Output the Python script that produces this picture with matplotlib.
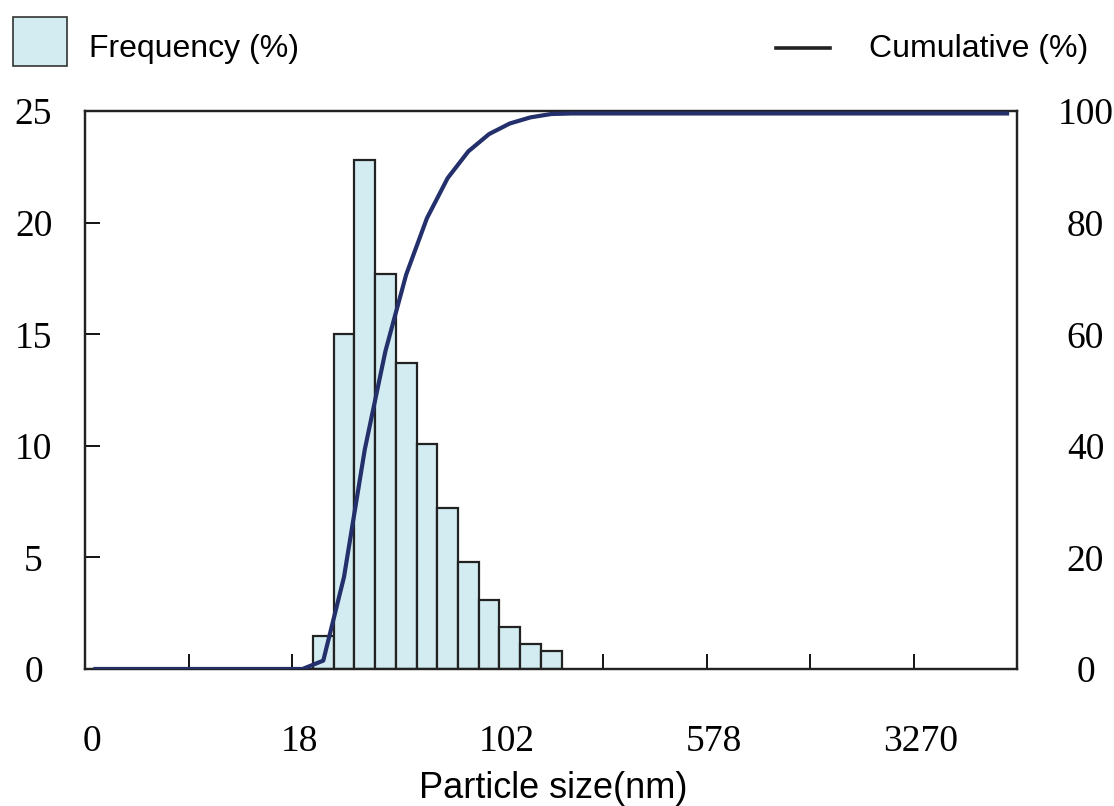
import numpy as np
import matplotlib
matplotlib.use("Agg")
import matplotlib.pyplot as plt
from matplotlib.patches import Rectangle
from matplotlib.lines import Line2D
import matplotlib.transforms as mtransforms

# size classes are log spaced, the axis is drawn in class-index units
n_bins = 45
tick_bins = [0, 10, 20, 30, 40]
tick_labels = ["0", "18", "102", "578", "3270"]

# frequency bars (%) sitting in classes 11..22
bar_bins = [11, 12, 13, 14, 15, 16, 17, 18, 19, 20, 21, 22]
freq = [1.5, 15.0, 22.8, 17.7, 13.7, 10.1, 7.2, 4.8, 3.1, 1.9, 1.1, 0.8]

# cumulative (%) read at the centre of every class
cumulative = [0, 0, 0, 0, 0, 0, 0, 0, 0, 0, 0,
              1.5, 16.5, 39.3, 57.0, 70.7, 80.8, 88.0, 92.8, 95.9, 97.8, 98.9, 99.5,
              99.6, 99.6, 99.6, 99.6, 99.6, 99.6, 99.6, 99.6, 99.6, 99.6, 99.6,
              99.6, 99.6, 99.6, 99.6, 99.6, 99.6, 99.6, 99.6, 99.6, 99.6, 99.6]

left_ticks = [0, 5, 10, 15, 20, 25]
right_ticks = [0, 20, 40, 60, 80, 100]

bar_color = "#d2ecf1"
line_color = "#23306b"
serif = ["Liberation Serif", "DejaVu Serif"]
sans = ["Liberation Sans", "DejaVu Sans"]

fig = plt.figure(figsize=(11.14, 8.06), dpi=100)
ax = fig.add_axes([0.0763, 0.170, 0.837, 0.692])
ax2 = ax.twinx()

ax.bar(np.array(bar_bins) + 0.5, freq, width=1.0, color=bar_color,
       edgecolor="#222222", linewidth=1.6, zorder=2)
ax2.plot(np.arange(n_bins) + 0.5, cumulative, color=line_color, lw=3.0, zorder=3)

ax.set_xlim(0, n_bins)
ax.set_ylim(0, 25)
ax2.set_ylim(0, 100)

# tick marks every 5 classes, labels every 10 (labels sit a little right of the mark)
ax.xaxis.remove_overlapping_locs = False
ax.set_xticks(np.arange(5, n_bins, 5))
ax.set_xticks(tick_bins, minor=True)
ax.tick_params(axis="x", which="major", direction="in", length=11, width=1.3,
               labelbottom=False)
ax.tick_params(axis="x", which="minor", length=0, pad=40, labelsize=27)
ax.set_xticklabels(tick_labels, minor=True, family=serif)
shift = mtransforms.ScaledTranslation(7 / 100, 0, fig.dpi_scale_trans)
for lab in ax.xaxis.get_minorticklabels():
    lab.set_transform(lab.get_transform() + shift)

ax.set_yticks(left_ticks)
ax.set_yticklabels([str(v) for v in left_ticks], family=serif)
ax.tick_params(axis="y", direction="in", length=11, width=1.3, pad=37, labelsize=27)
for lab in ax.get_yticklabels():
    lab.set_horizontalalignment("center")

ax2.set_yticks(right_ticks)
ax2.set_yticklabels([str(v) for v in right_ticks], family=serif)
ax2.tick_params(axis="y", length=0, pad=49, labelsize=27)
for lab in ax2.get_yticklabels():
    lab.set_horizontalalignment("center")

for a in (ax, ax2):
    for s in a.spines.values():
        s.set_linewidth(1.6)
        s.set_color("#222222")

fig.text(0.497, 0.010, "Particle size(nm)", family=sans, fontsize=26,
         ha="center", va="baseline")

# legend drawn by hand at the top of the figure
fig.patches.append(Rectangle((0.0117, 0.918), 0.0485, 0.0608, transform=fig.transFigure,
                             facecolor=bar_color, edgecolor="#333333", lw=1.2))
fig.text(0.080, 0.929, "Frequency (%)", family=sans, fontsize=23, va="baseline", ha="left")
fig.lines.append(Line2D([0.697, 0.745], [0.940, 0.940], transform=fig.transFigure,
                        color="#222222", lw=2.6))
fig.text(0.977, 0.929, "Cumulative (%)", family=sans, fontsize=23, va="baseline", ha="right")

fig.savefig("out.png", dpi=100)
